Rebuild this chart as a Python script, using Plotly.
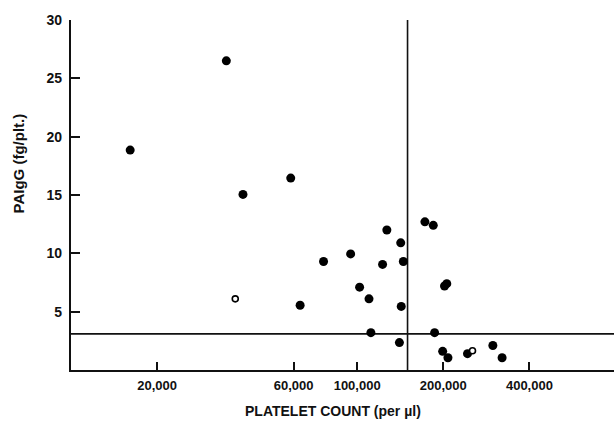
import plotly.graph_objects as go

# Filled circles: platelet count (per µl), PAIgG (fg/plt.)
filled_count = [16100, 34900, 39900, 58600, 63200, 76300, 94900, 102000, 110000,
                111700, 122700, 127000, 140500, 142000, 142600, 145000, 172500,
                184500, 186500, 199000, 202000, 205700, 207600, 243000, 298000, 321000]
filled_paigg = [18.85, 26.5, 15.05, 16.45, 5.55, 9.3, 9.95, 7.1, 6.1,
                3.2, 9.05, 12.0, 2.35, 10.9, 5.45, 9.3, 12.7,
                12.4, 3.2, 1.6, 7.2, 7.4, 1.05, 1.4, 2.1, 1.05]

# Open circles
open_count = [37500, 253000]
open_paigg = [6.1, 1.65]

# Reference cut-offs
count_cutoff = 150000
paigg_cutoff = 3.1

x_tickvals = [20000, 60000, 100000, 200000, 400000]
x_ticktext = ["20,000", "60,000", "100,000", "200,000", "400,000"]
y_tickvals = [5, 10, 15, 20, 25, 30]

x_min, x_max = 10000, 790000
y_min, y_max = 0, 30

font = dict(family="Liberation Sans", size=13, color="#111", weight="bold")

fig = go.Figure()
fig.add_trace(go.Scatter(x=[count_cutoff, count_cutoff], y=[y_min, y_max], mode="lines",
                         line=dict(color="#111", width=1.6), hoverinfo="skip"))
fig.add_trace(go.Scatter(x=[x_min, x_max], y=[paigg_cutoff, paigg_cutoff], mode="lines",
                         line=dict(color="#111", width=1.6), hoverinfo="skip"))
fig.add_trace(go.Scatter(x=filled_count, y=filled_paigg, mode="markers",
                         marker=dict(size=9, color="#000", line=dict(width=0))))
fig.add_trace(go.Scatter(x=open_count, y=open_paigg, mode="markers",
                         marker=dict(size=6, color="#fff", line=dict(width=1.6, color="#000"))))

fig.update_layout(
    width=614, height=423,
    margin=dict(l=71, r=0, t=20, b=53),
    paper_bgcolor="white", plot_bgcolor="white",
    showlegend=False,
    font=font,
)
fig.update_xaxes(type="log", range=[4, 5.8976], tickvals=x_tickvals, ticktext=x_ticktext,
                 ticks="inside", ticklen=8, tickwidth=1.8, tickcolor="#111",
                 showline=True, linecolor="#111", linewidth=2.2, showgrid=False,
                 zeroline=False, tickfont=font, ticklabelstandoff=2)
fig.update_yaxes(range=[y_min, y_max], tickvals=y_tickvals,
                 ticks="inside", ticklen=9, tickwidth=1.8, tickcolor="#111",
                 showline=True, linecolor="#111", linewidth=2.2, showgrid=False,
                 zeroline=False, tickfont=dict(font, size=14), ticklabelstandoff=4)

fig.add_annotation(text="PAIgG (fg/plt.)", xref="paper", yref="paper",
                   x=-0.0958, y=0.59, textangle=-90, showarrow=False,
                   font=dict(font, size=15), xanchor="center", yanchor="middle")
fig.add_annotation(text="PLATELET COUNT (per µl)", xref="paper", yref="paper",
                   x=0.4825, y=-0.117, showarrow=False,
                   font=dict(font, size=14), xanchor="center", yanchor="middle")

fig.write_html("out.html", config={"displayModeBar": False},
               post_script="document.body.style.margin='0px';document.body.style.overflow='hidden';")
